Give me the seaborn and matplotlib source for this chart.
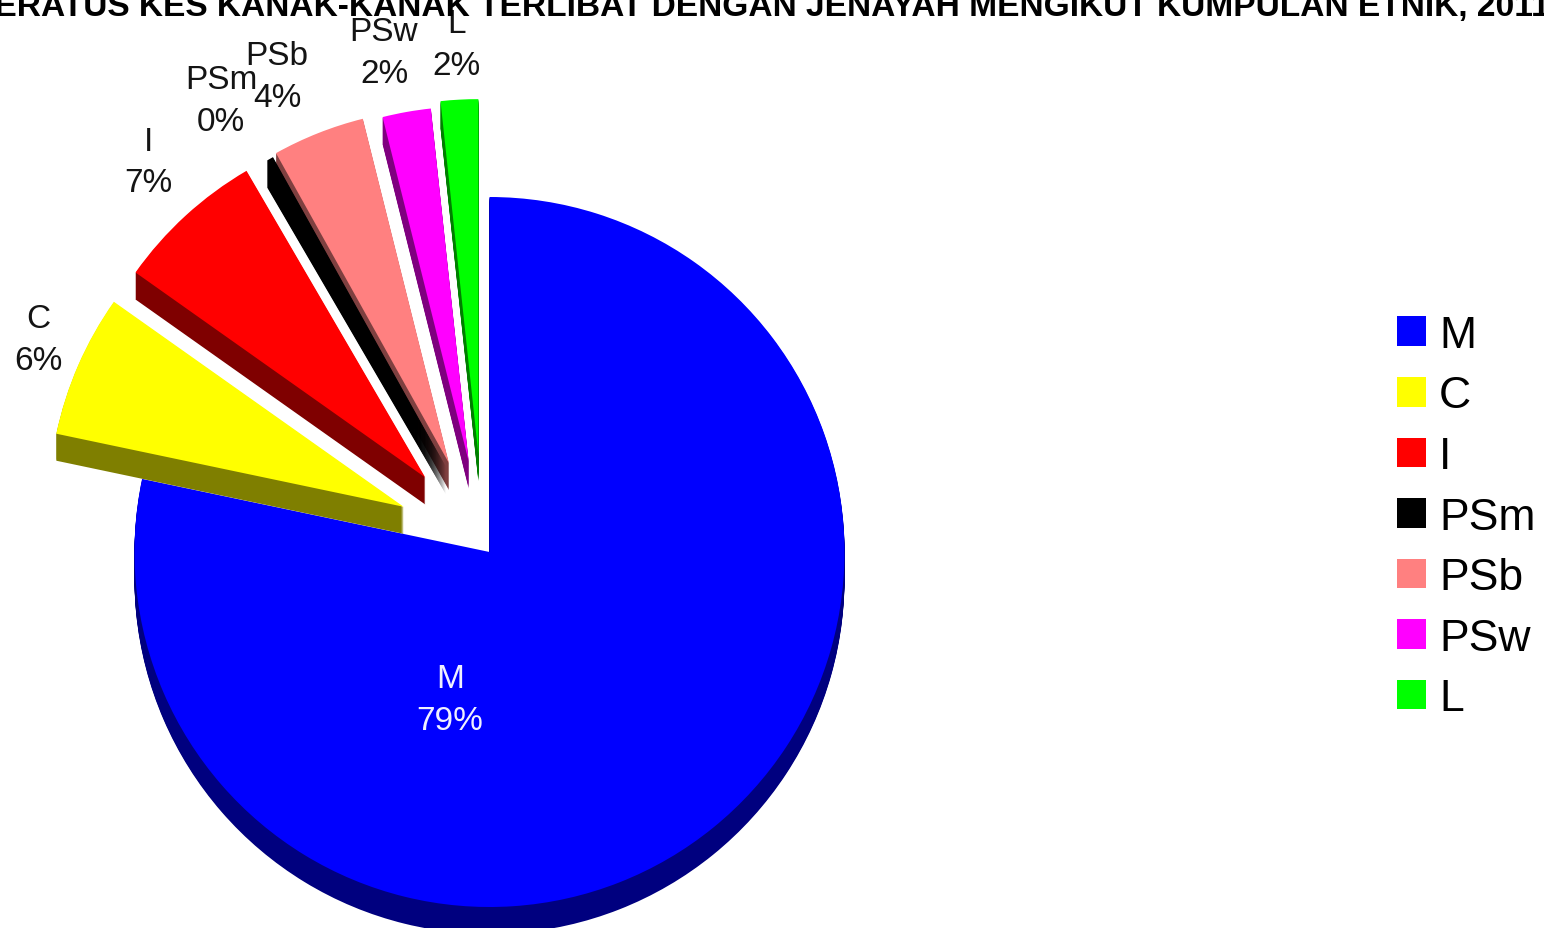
import matplotlib
matplotlib.use("Agg")
import matplotlib.pyplot as plt
from matplotlib.patches import Patch
import seaborn as sns

categories = ["M", "C", "I", "PSm", "PSb", "PSw", "L"]
shares = [78.3, 6.5, 6.8, 0.3, 4.2, 2.2, 1.7]
percent_labels = ["79%", "6%", "7%", "0%", "4%", "2%", "2%"]
title_text = "PERATUS KES KANAK-KANAK TERLIBAT DENGAN JENAYAH MENGIKUT KUMPULAN ETNIK, 2011"

top_colors = ["#0000FF", "#FFFF00", "#FF0000", "#000000", "#FF8080", "#FF00FF", "#00FF00"]
side_colors = ["#00007F", "#7F7F00", "#7F0000", "#000000", "#7F4040", "#7F007F", "#007F00"]

sns.set_theme(style="white")
plt.rcParams["font.family"] = ["Liberation Sans", "DejaVu Sans"]

W, H = 1544, 929
fig = plt.figure(figsize=(W / 100, H / 100), dpi=100, facecolor="white")
ax = fig.add_axes([0, 0, 1, 1])

CX, CY, R, DEPTH = 489.5, H - 553, 355, 27
explode = [0, 98, 101, 100, 102, 96, 96]
nudge = [(0, 0), (4, 6), (4, 0), (6, -2), (-3, -6), (-4, -4), (-6, 2)]
# paint order: main slice first, then exploded slices back to front
order = {0: 1, 6: 2, 5: 3, 4: 4, 3: 5, 2: 6, 1: 7}

for d in range(DEPTH, -1, -1):
    colors = top_colors if d == 0 else side_colors
    wedges, _ = ax.pie(shares, explode=explode, colors=colors, startangle=90,
                       counterclock=False, radius=R, center=(CX, CY - d),
                       frame=True, wedgeprops=dict(linewidth=0))
    for i, w in enumerate(wedges):
        w.set_zorder(order[i] + (0.5 if d == 0 else 0.2))
        cx, cy = w.center
        w.set_center((cx + nudge[i][0], cy + nudge[i][1]))

ax.set_xlim(0, W)
ax.set_ylim(0, H)
ax.set_aspect("equal")
ax.axis("off")

label_pos = [(450, 680), (38, 319), (148, 142), (221, 80), (277, 56), (384, 32), (456, 24)]
for i, (cat, pct) in enumerate(zip(categories, percent_labels)):
    x, y = label_pos[i]
    col = "#F0F0FF" if i == 0 else "#141414"
    ax.text(x, H - y, cat, ha="center", va="center", fontsize=24, color=col, zorder=20)
    ax.text(x, H - y - 42, pct, ha="center", va="center", fontsize=24, color=col, zorder=20)

ax.text(761, H - 16, title_text, ha="center", va="baseline", fontsize=24.1,
        fontweight="bold", color="black", zorder=20)

handles = [Patch(facecolor=c, edgecolor="none", label=n) for c, n in zip(top_colors, categories)]
leg = ax.legend(handles=handles, loc="center left", bbox_to_anchor=(1397 / W, 1 - 518 / H),
                bbox_transform=fig.transFigure, frameon=False, fontsize=32,
                handlelength=0.65, handleheight=0.65, handletextpad=0.30,
                labelspacing=0.44, borderpad=0, borderaxespad=0, labelcolor="black")
sns.despine(ax=ax, left=True, bottom=True)
fig.savefig("out.png", dpi=100)
